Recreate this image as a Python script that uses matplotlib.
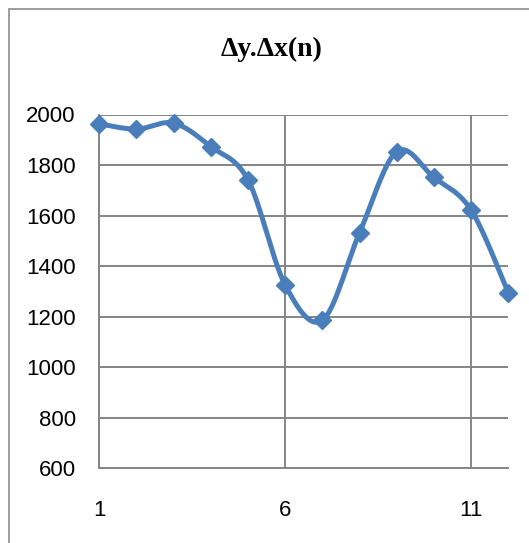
import numpy as np
import matplotlib
matplotlib.use("Agg")
import matplotlib.pyplot as plt
from matplotlib.patches import Rectangle

# Series values
n = [1, 2, 3, 4, 5, 6, 7, 8, 9, 10, 11, 12]
dydx = [1963, 1942, 1966, 1873, 1741, 1325, 1186, 1532, 1853, 1751, 1622, 1295]
y_ticks = [600, 800, 1000, 1200, 1400, 1600, 1800, 2000]
x_ticks = [1, 6, 11]
title = "\u0394y.\u0394x(n)"

LINE_BLUE = "#4A7EBB"
GRID_GREY = "#858585"


def smooth_curve(xs, ys, steps=40):
    """Catmull-Rom style Bezier smoothing through every point."""
    xs = np.asarray(xs, float)
    ys = np.asarray(ys, float)
    px = np.concatenate([[xs[0]], xs, [xs[-1]]])
    py = np.concatenate([[ys[0]], ys, [ys[-1]]])
    out_x, out_y = [], []
    t = np.linspace(0, 1, steps)
    for i in range(1, len(px) - 2):
        p0 = np.array([px[i], py[i]])
        p3 = np.array([px[i + 1], py[i + 1]])
        c1 = p0 + (np.array([px[i + 1], py[i + 1]]) - np.array([px[i - 1], py[i - 1]])) / 6
        c2 = p3 - (np.array([px[i + 2], py[i + 2]]) - np.array([px[i], py[i]])) / 6
        b = ((1 - t) ** 3)[:, None] * p0 + (3 * (1 - t) ** 2 * t)[:, None] * c1 \
            + (3 * (1 - t) * t ** 2)[:, None] * c2 + (t ** 3)[:, None] * p3
        out_x.extend(b[:, 0])
        out_y.extend(b[:, 1])
    return np.array(out_x), np.array(out_y)


W, H = 529, 543
fig = plt.figure(figsize=(W / 100, H / 100), dpi=100)
fig.patch.set_facecolor("white")

# chart frame (top and left edges visible)
fig.patches.append(Rectangle((9 / W, -0.1), 1.2, 1 - 9 / H + 0.1,
                             transform=fig.transFigure, fill=False,
                             edgecolor="#8c8c8c", lw=1.2))

left, right = 99.3 / W, 508.3 / W
bottom, top = 1 - 468.3 / H, 1 - 114.5 / H
ax = fig.add_axes([left, bottom, right - left, top - bottom])
ax.set_xlim(1, 12)
ax.set_ylim(600, 2000)

ax.set_yticks(y_ticks)
ax.set_xticks(x_ticks)
ax.grid(True, color=GRID_GREY, lw=1.4)
ax.set_axisbelow(True)
for side in ["top", "right"]:
    ax.spines[side].set_visible(False)
for side in ["left", "bottom"]:
    ax.spines[side].set_color(GRID_GREY)
    ax.spines[side].set_linewidth(1.4)

ax.tick_params(length=0, labelsize=16)
ax.tick_params(axis="y", pad=17)
ax.tick_params(axis="x", pad=23)
for lab in ax.get_xticklabels() + ax.get_yticklabels():
    lab.set_fontfamily("Liberation Sans")

sx, sy = smooth_curve(n, dydx)
ax.plot(sx, sy, color=LINE_BLUE, lw=3.6, solid_capstyle="round", clip_on=False, zorder=3)
ax.plot(n, dydx, linestyle="none", marker="D", ms=9.5, color=LINE_BLUE,
        mec=LINE_BLUE, mew=1, clip_on=False, zorder=4)

fig.text(272 / W, 1 - 49 / H, title, ha="center", va="center",
         fontsize=20, fontweight="bold", family=["Liberation Serif", "DejaVu Serif"])

fig.savefig("out.png", dpi=100)
